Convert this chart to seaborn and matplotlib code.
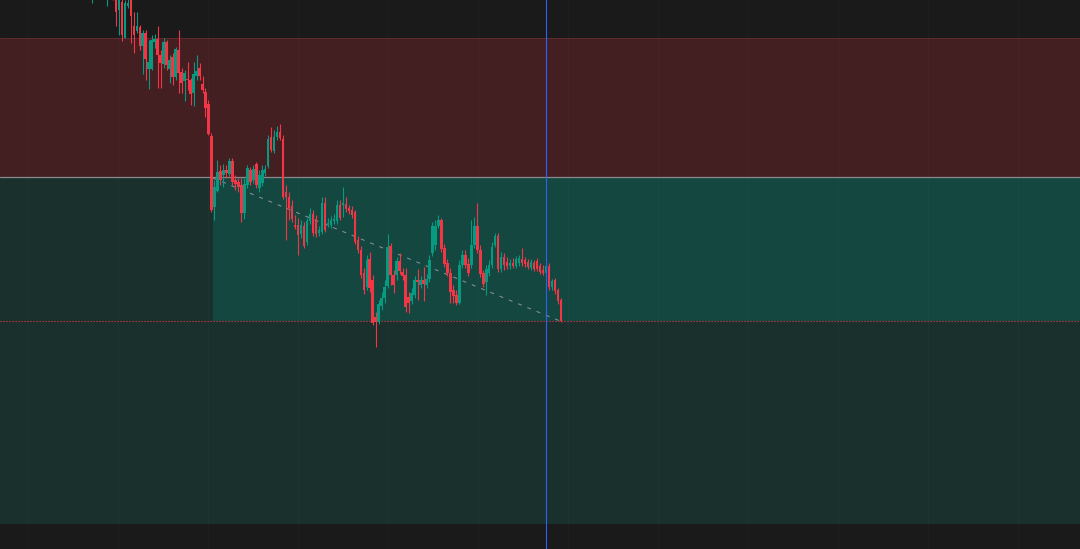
import numpy as np
import pandas as pd
import matplotlib
matplotlib.use("Agg")
import matplotlib.pyplot as plt
import seaborn as sns

# ======================================
# DATA (price in points)
opens = [620, 610, 625, 615, 608, 618, 605, 615, 604, 605, 590, 598, 562, 594, 600, 574, 569, 573, 554, 567,
         531, 531, 558, 561, 545, 536, 558, 531, 543, 523, 550, 528, 519, 521, 520, 507, 524, 532, 516, 508,
         496, 464, 393, 409, 429, 425, 430, 426, 439, 420, 418, 415, 387, 415, 430, 420, 436, 412, 417, 427,
         434, 463, 449, 463, 468, 461, 408, 403, 394, 375, 375, 366, 374, 358, 379, 386, 381, 367, 368, 397,
         375, 375, 379, 379, 395, 395, 396, 392, 390, 388, 360, 350, 327, 313, 341, 320, 283, 278, 294, 302,
         314, 354, 325, 325, 339, 328, 325, 303, 299, 305, 320, 315, 320, 315, 321, 347, 355, 374, 380, 352,
         337, 327, 310, 305, 297, 335, 345, 336, 335, 355, 374, 350, 327, 318, 327, 335, 355, 364, 331, 343,
         338, 334, 337, 334, 337, 341, 340, 338, 332, 337, 339, 334, 330, 327, 334, 313, 320, 310, 300]
highs = [640, 630, 630, 620, 622, 622, 620, 618, 608, 610, 610, 602, 600, 603, 605, 588, 588, 575, 570, 570,
         560, 565, 566, 574, 550, 562, 560, 545, 547, 553, 570, 532, 530, 538, 522, 538, 545, 537, 524, 512,
         500, 467, 420, 440, 435, 436, 435, 442, 442, 425, 422, 422, 422, 435, 433, 435, 438, 430, 435, 435,
         465, 473, 470, 474, 476, 465, 415, 408, 400, 385, 382, 380, 378, 382, 392, 390, 385, 374, 403, 403,
         382, 384, 386, 400, 400, 413, 403, 395, 394, 390, 364, 354, 332, 345, 348, 325, 288, 300, 308, 320,
         366, 357, 330, 343, 347, 332, 332, 308, 312, 324, 331, 324, 333, 326, 345, 378, 380, 385, 382, 356,
         341, 332, 315, 310, 340, 350, 350, 342, 380, 383, 397, 355, 330, 335, 340, 358, 367, 367, 348, 347,
         343, 341, 342, 344, 345, 352, 343, 341, 341, 340, 342, 337, 335, 338, 337, 321, 322, 312, 302]
lows = [610, 597, 608, 603, 603, 602, 594, 601, 600, 574, 565, 559, 562, 592, 557, 547, 567, 550, 526, 520,
        511, 530, 552, 512, 512, 532, 530, 517, 515, 520, 507, 507, 499, 510, 495, 494, 520, 520, 507, 483,
        465, 388, 380, 408, 415, 413, 422, 424, 415, 410, 408, 378, 381, 412, 415, 417, 412, 408, 414, 424,
        432, 448, 447, 460, 460, 401, 360, 380, 378, 371, 345, 362, 352, 355, 376, 364, 363, 364, 366, 368,
        373, 372, 376, 376, 380, 383, 388, 386, 382, 356, 347, 322, 306, 310, 308, 275, 253, 276, 290, 297,
        312, 315, 307, 320, 326, 320, 288, 287, 296, 302, 300, 312, 299, 312, 318, 344, 350, 372, 348, 333,
        324, 297, 297, 295, 296, 332, 332, 324, 332, 352, 347, 323, 313, 305, 324, 332, 353, 328, 328, 330,
        331, 331, 332, 332, 334, 334, 333, 331, 330, 329, 329, 326, 325, 325, 310, 310, 306, 296, 278]
closes = [635, 625, 615, 608, 618, 606, 615, 604, 601, 588, 605, 565, 597, 597, 584, 565, 574, 554, 567, 541,
          538, 560, 561, 545, 537, 558, 535, 540, 523, 551, 527, 517, 527, 520, 506, 526, 529, 524, 510, 492,
          466, 390, 413, 428, 420, 430, 427, 439, 418, 416, 413, 387, 416, 432, 418, 431, 415, 425, 430, 431,
          461, 450, 463, 468, 462, 403, 403, 392, 381, 373, 365, 375, 354, 379, 386, 367, 366, 370, 397, 370,
          377, 380, 381, 395, 382, 397, 391, 389, 385, 358, 350, 325, 310, 340, 312, 277, 278, 296, 302, 313,
          353, 325, 315, 339, 329, 324, 293, 297, 307, 320, 318, 320, 316, 321, 340, 374, 374, 380, 351, 336,
          327, 308, 304, 297, 335, 345, 335, 327, 355, 374, 350, 326, 316, 331, 335, 353, 364, 331, 343, 335,
          334, 337, 334, 341, 342, 337, 336, 333, 338, 331, 331, 328, 327, 334, 313, 319, 309, 299, 279]

# zone levels
supply_top = 562
zone_mid = 423
demand_bottom = 76
entry_level = 279
trend_start = (41.5, 422)
trend_end = (157.7, 279)
cursor_idx = 153

df = pd.DataFrame({"open": opens, "high": highs, "low": lows, "close": closes})
df["idx"] = np.arange(len(df))
df["up"] = df["close"] >= df["open"]

# ======================================
# STYLE
bg = "#1a1a1a"
up_col = "#089981"
down_col = "#f23645"
sns.set_theme(style="dark", rc={"axes.facecolor": bg, "figure.facecolor": bg})

fig = plt.figure(figsize=(10.8, 5.49), dpi=100)
ax = fig.add_axes([0, 0, 1, 1])
ax.set_xlim(-29.8, 331.8)
ax.set_ylim(51, 600)

# ======================================
# ZONES
ax.axhspan(zone_mid, supply_top, color="#431f22", zorder=0, lw=0)
ax.axhline(supply_top, color="#5e2a2d", lw=0.75, zorder=1)
ax.axhspan(demand_bottom, zone_mid, color="#1a302d", zorder=0, lw=0)
ax.fill_between([trend_start[0], 331.8], entry_level, zone_mid, color="#134740", zorder=0.5, lw=0)
ax.axhline(zone_mid, color="#8a8a8a", lw=0.9, zorder=1)

# faint vertical grid
for gx in np.arange(-20.4, 332, 30.13):
    ax.axvline(gx, color="white", alpha=0.02, lw=0.75, zorder=1)

# ======================================
# CANDLES
colors = np.where(df["up"], up_col, down_col)
ax.vlines(df["idx"], df["low"], df["high"], colors=colors, lw=0.8, zorder=3)
body_bottom = df[["open", "close"]].min(axis=1)
body_height = (df["close"] - df["open"]).abs().clip(lower=0.8)
ax.bar(df["idx"], body_height, bottom=body_bottom, width=0.85, color=colors, lw=0, zorder=4)

# trend line + entry
ax.plot([trend_start[0], trend_end[0]], [trend_start[1], trend_end[1]],
        color="#8c8f96", lw=0.75, ls=(0, (3.8, 5.8)), zorder=2)
ax.axhline(entry_level, color=down_col, lw=0.8, ls=(0, (1, 1.7)), zorder=2, snap=True)

# cursor
ax.axvline(cursor_idx, color="#2962ff", lw=0.8, zorder=5, snap=True)

ax.set_xticks([])
ax.set_yticks([])
for s in ax.spines.values():
    s.set_visible(False)

fig.savefig("out.png", dpi=100, facecolor=bg)
